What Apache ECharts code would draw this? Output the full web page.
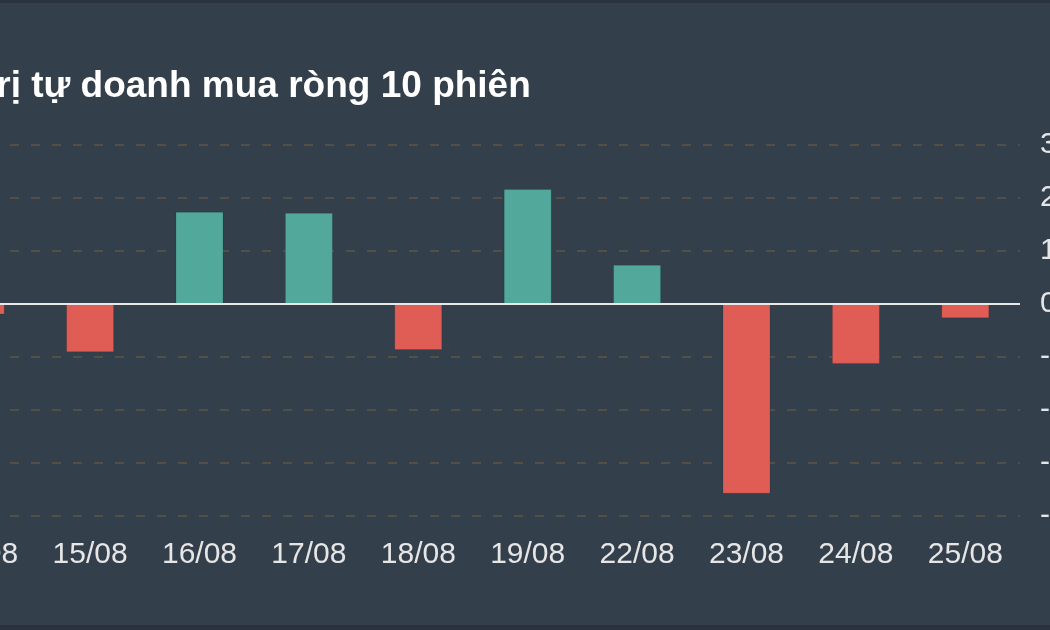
<!DOCTYPE html>
<html>
<head>
<meta charset="utf-8">
<script src="https://cdn.jsdelivr.net/npm/echarts@6/dist/echarts.min.js"></script>
<style>
  html, body { margin: 0; padding: 0; background: #343f4c; overflow: hidden; }
  .frame { position: relative; width: 1050px; height: 630px; overflow: hidden;
           border-top: 3px solid #2a333d; border-bottom: 5px solid #2a333d; box-sizing: border-box; }
  #chart { position: absolute; left: -100px; top: -3px; width: 1200px; height: 630px; }
</style>
</head>
<body>
<div class="frame"><div id="chart"></div></div>
<script>
// giá trị tự doanh mua ròng theo phiên
var days = ['12/08', '15/08', '16/08', '17/08', '18/08', '19/08', '22/08', '23/08', '24/08', '25/08']
var netValues = [-0.2, -0.91, 1.74, 1.72, -0.87, 2.17, 0.74, -3.58, -1.13, -0.27]
var yTicks = [-4, 3]

var myChart = echarts.init(document.getElementById('chart'))
var option = {
    backgroundColor: '#343f4c',
    animation: false,
    title: {
        text: 'Giá trị tự doanh mua ròng 10 phiên',
        left: 9,
        top: 63,
        textStyle: {
            color: '#ffffff',
            fontSize: 37,
            fontWeight: 'bold',
            fontFamily: 'Liberation Sans, Arial, sans-serif'
        }
    },
    grid: {
        left: 26,
        right: 80,
        top: 145,
        bottom: 114
    },
    xAxis: {
        type: 'category',
        data: days,
        axisLine: { show: false },
        axisTick: { show: false },
        axisLabel: {
            color: '#e6e6e6',
            fontSize: 30,
            fontFamily: 'Liberation Sans, Arial, sans-serif',
            margin: 24
        }
    },
    yAxis: {
        type: 'value',
        position: 'right',
        min: yTicks[0],
        max: yTicks[1],
        interval: 1,
        axisLine: { show: false },
        axisTick: { show: false },
        axisLabel: {
            color: '#e6e6e6',
            fontSize: 30,
            fontFamily: 'Liberation Sans, Arial, sans-serif',
            margin: 20
        },
        splitLine: {
            lineStyle: { color: '#5e5444', type: [9, 12], width: 1.5 }
        }
    },
    series: [{
        type: 'bar',
        data: netValues,
        barWidth: 48,
        itemStyle: {
            color: function (p) { return p.value >= 0 ? '#52a89b' : '#e05d55' },
            borderColor: 'rgba(0,0,0,0.12)',
            borderWidth: 1
        },
        markLine: {
            symbol: 'none',
            silent: true,
            label: { show: false },
            lineStyle: { color: '#e8e8e8', type: 'solid', width: 2 },
            data: [{ yAxis: 0 }]
        }
    }]
}
myChart.setOption(option)
</script>
</body>
</html>
